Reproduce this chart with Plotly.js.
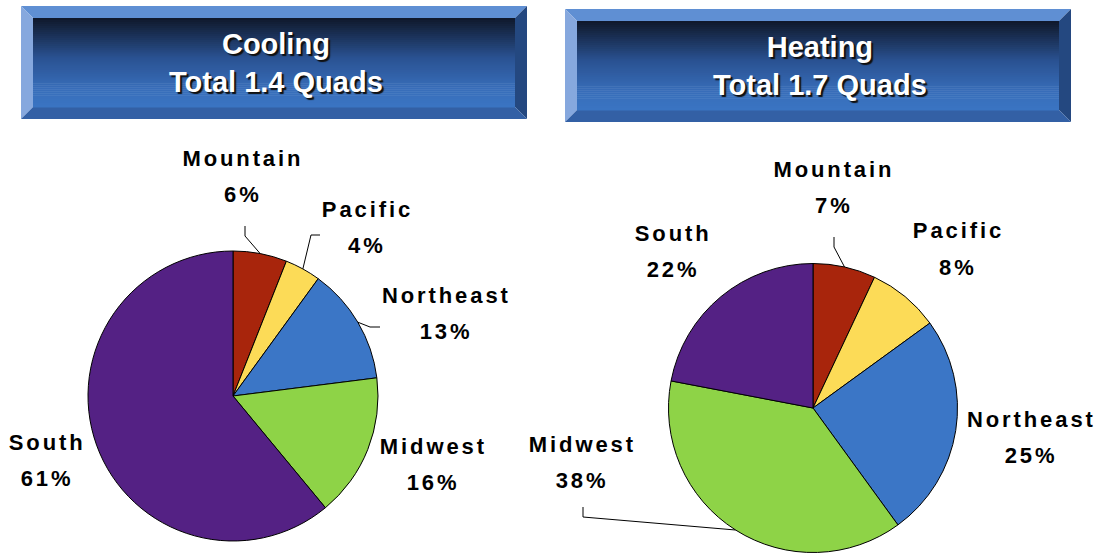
<!DOCTYPE html>
<html>
<head>
<meta charset="utf-8">
<script src="https://cdn.plot.ly/plotly-3.0.1.min.js"></script>
<style>
  html, body { margin: 0; padding: 0; background: #ffffff; }
  #chart { width: 1101px; height: 554px; }
  /* slice labels are drawn letter-spaced, the box titles are not */
  #chart g.annotation text { letter-spacing: 2.9px; }
  #chart g.annotation[data-index="0"] text,
  #chart g.annotation[data-index="1"] text { letter-spacing: normal; }
</style>
</head>
<body>
<div id="chart"></div>
<script>
// Data
const regions = ['Mountain', 'Pacific', 'Northeast', 'Midwest', 'South'];
const coolingShares = [6, 4, 13, 16, 61];
const heatingShares = [7, 8, 25, 38, 22];
const sliceColors = ['#A8250C', '#FCDB57', '#3B76C6', '#8ED347', '#542184'];
const coolingTitle = ['Cooling', 'Total 1.4 Quads'];
const heatingTitle = ['Heating', 'Total 1.7 Quads'];

const W = 1101, H = 554;
const px = x => x / W;
const py = y => 1 - y / H;

// pie placement (pixels): centre and radius
const coolingPie = { cx: 233, cy: 396, r: 145 };
const heatingPie = { cx: 813, cy: 408, r: 144.5 };

// label centres (name line y, percent line y) and optional leader elbows
const coolingLabels = [
  { x: 243, y: 158, leader: [[245, 226], [245, 236]] },
  { x: 367, y: 209, leader: [[320, 235], [311, 235]] },
  { x: 446, y: 295, leader: [[380, 327], [370, 327]] },
  { x: 433, y: 446, leader: null },
  { x: 47, y: 442, leader: null }
];
const heatingLabels = [
  { x: 834, y: 170, leader: [[834, 237], [834, 247]] },
  { x: 958, y: 231, leader: null },
  { x: 1031, y: 419, leader: null },
  { x: 582, y: 444, leader: [[583, 507], [583, 517]] },
  { x: 673, y: 233, leader: null }
];

function pieDomain(p) {
  return {
    x: [px(p.cx - p.r), px(p.cx + p.r)],
    y: [py(p.cy + p.r), py(p.cy - p.r)]
  };
}

function pieTrace(values, p) {
  return {
    type: 'pie',
    labels: regions,
    values: values,
    sort: false,
    direction: 'clockwise',
    rotation: 0,
    textinfo: 'none',
    hoverinfo: 'none',
    marker: { colors: sliceColors, line: { color: '#000000', width: 1 } },
    domain: pieDomain(p),
    showlegend: false
  };
}

// point on the pie edge at the middle of slice i
function sliceEdge(values, i, p) {
  let total = values.reduce((a, b) => a + b, 0);
  let before = values.slice(0, i).reduce((a, b) => a + b, 0);
  let t = 2 * Math.PI * (before + values[i] / 2) / total;
  return [p.cx + p.r * Math.sin(t), p.cy - p.r * Math.cos(t)];
}

function labelAnnotations(values, labels) {
  let out = [];
  labels.forEach((l, i) => {
    let font = { family: 'Liberation Sans, Arial, sans-serif', size: 22, color: '#000000', weight: 'bold' };
    out.push({ xref: 'paper', yref: 'paper', x: px(l.x), y: py(l.y), text: regions[i],
      showarrow: false, xanchor: 'center', yanchor: 'middle', font: font });
    out.push({ xref: 'paper', yref: 'paper', x: px(l.x), y: py(l.y + 36), text: values[i] + '%',
      showarrow: false, xanchor: 'center', yanchor: 'middle', font: font });
  });
  return out;
}

function leaderShapes(values, labels, p) {
  let out = [];
  labels.forEach((l, i) => {
    if (!l.leader) return;
    let pts = l.leader.concat([sliceEdge(values, i, p)]);
    let path = pts.map((q, k) => (k ? 'L' : 'M') + px(q[0]) + ',' + py(q[1])).join(' ');
    out.push({ type: 'path', xref: 'paper', yref: 'paper', path: path,
      line: { color: '#000000', width: 1 } });
  });
  return out;
}

// beveled title box: four frame faces plus a vertical gradient inside
function lerp(a, b, t) { return a.map((v, k) => Math.round(v + (b[k] - v) * t)); }
const gradStops = [[0, [15, 24, 42]], [0.45, [42, 82, 146]], [0.8, [56, 110, 186]], [1, [58, 116, 194]]];
function gradColor(t) {
  for (let k = 1; k < gradStops.length; k++) {
    if (t <= gradStops[k][0]) {
      let a = gradStops[k - 1], b = gradStops[k];
      let c = lerp(a[1], b[1], (t - a[0]) / (b[0] - a[0]));
      return 'rgb(' + c.join(',') + ')';
    }
  }
  return 'rgb(58,116,194)';
}

function poly(points, color) {
  let path = points.map((q, k) => (k ? 'L' : 'M') + px(q[0]) + ',' + py(q[1])).join(' ') + ' Z';
  return { type: 'path', xref: 'paper', yref: 'paper', path: path,
    fillcolor: color, line: { width: 0 }, layer: 'below' };
}

function bevelBox(x0, y0, x1, y1, b) {
  let s = [];
  s.push(poly([[x0, y0], [x1, y0], [x1 - b, y0 + b], [x0 + b, y0 + b]], '#5F8FD3'));
  s.push(poly([[x0, y0], [x0 + b, y0 + b], [x0 + b, y1 - b], [x0, y1]], '#86A8DE'));
  s.push(poly([[x1, y0], [x1, y1], [x1 - b, y1 - b], [x1 - b, y0 + b]], '#244880'));
  s.push(poly([[x0, y1], [x0 + b, y1 - b], [x1 - b, y1 - b], [x1, y1]], '#3360A5'));
  let n = 45, top = y0 + b, bot = y1 - b, h = (bot - top) / n;
  for (let k = 0; k < n; k++) {
    let c = gradColor((k + 0.5) / n);
    s.push({ type: 'rect', xref: 'paper', yref: 'paper',
      x0: px(x0 + b), x1: px(x1 - b), y0: py(top + k * h), y1: py(top + (k + 1) * h + 0.6),
      fillcolor: c, line: { width: 0 }, layer: 'below' });
  }
  return s;
}

function titleAnnotation(lines, cx, cy) {
  return { xref: 'paper', yref: 'paper', x: px(cx), y: py(cy), text: lines.join('<br>'),
    showarrow: false, xanchor: 'center', yanchor: 'middle', align: 'center',
    font: { family: 'Liberation Sans, Arial, sans-serif', size: 29, color: '#ffffff',
      weight: 'bold', shadow: '2px 2px 1px #101010' } };
}

let data = [pieTrace(coolingShares, coolingPie), pieTrace(heatingShares, heatingPie)];

let layout = {
  width: W,
  height: H,
  margin: { l: 0, r: 0, t: 0, b: 0 },
  paper_bgcolor: '#ffffff',
  showlegend: false,
  shapes: []
    .concat(bevelBox(21, 6, 527, 119, 12))
    .concat(bevelBox(565, 9, 1071, 122, 12))
    .concat(leaderShapes(coolingShares, coolingLabels, coolingPie))
    .concat(leaderShapes(heatingShares, heatingLabels, heatingPie)),
  annotations: [titleAnnotation(coolingTitle, 276, 63), titleAnnotation(heatingTitle, 820, 66)]
    .concat(labelAnnotations(coolingShares, coolingLabels))
    .concat(labelAnnotations(heatingShares, heatingLabels))
};

Plotly.newPlot('chart', data, layout, { displayModeBar: false, staticPlot: true });
</script>
</body>
</html>
